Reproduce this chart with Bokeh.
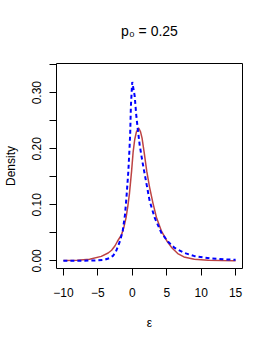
from bokeh.plotting import figure
from bokeh.models import Range1d, FixedTicker
from bokeh.embed import file_html
from bokeh.resources import INLINE

# Solid red curve (density vs epsilon)
red_x = [-10, -8, -6.2, -4.5, -3.5, -3, -2.5, -2.15, -1.55, -1.2, -0.9, -0.65, -0.42,
         -0.1, 0.13, 0.35, 0.6, 0.93, 1.2, 1.42, 1.71, 2.1, 2.5, 3.0, 3.5, 4.2, 5.0,
         5.7, 6.6, 7.5, 9.0, 11, 13, 15]
red_y = [0.0005, 0.0012, 0.0028, 0.008, 0.014, 0.019, 0.027, 0.035, 0.047, 0.061,
         0.077, 0.097, 0.119, 0.160, 0.195, 0.216, 0.230, 0.237, 0.230, 0.219, 0.195,
         0.160, 0.132, 0.103, 0.078, 0.054, 0.036, 0.024, 0.013, 0.007, 0.003, 0.0012,
         0.0006, 0.0003]

# Dashed blue curve
blue_x = [-10, -7, -5, -4, -3.3, -2.8, -2.4, -2.07, -1.77, -1.39, -1.05, -0.81, -0.57,
          -0.42, -0.3, -0.2, -0.05, 0, 0.35, 0.59, 0.8, 1.07, 1.5, 1.8, 2.52, 3.25,
          4.22, 5.2, 6.15, 7.6, 9.05, 11.5, 13.9, 15]
blue_y = [0.0001, 0.0003, 0.001, 0.002, 0.005, 0.009, 0.016, 0.026, 0.036, 0.053,
          0.083, 0.119, 0.160, 0.196, 0.228, 0.276, 0.310, 0.319, 0.294, 0.258, 0.235,
          0.207, 0.175, 0.155, 0.107, 0.077, 0.050, 0.034, 0.023, 0.014, 0.0084,
          0.0042, 0.0025, 0.002]

x_ticks = [-10, -5, 0, 5, 10, 15]
x_tick_labels = ["\u221210", "\u22125", "0", "5", "10", "15"]
y_ticks = [0, 0.05, 0.1, 0.15, 0.2, 0.25, 0.3, 0.35]
y_tick_labels = ["0.00", "", "0.10", "", "0.20", "", "0.30", ""]

title_text = "p\u2080 = 0.25"

FONT = "Liberation Sans"

p = figure(frame_width=186, frame_height=205, output_backend="svg", toolbar_location=None,
           x_range=Range1d(-11, 16), y_range=Range1d(-0.0136, 0.352),
           min_border_left=55, min_border_right=15, min_border_top=62,
           min_border_bottom=61, background_fill_color="white",
           border_fill_color="white")

p.title.text = title_text
p.title.align = "center"
p.title.vertical_align = "top"
p.title.text_font = FONT
p.title.text_font_size = "14px"
p.title.text_font_style = "normal"
p.title.text_color = "black"
p.title.standoff = 45

p.grid.visible = False
p.outline_line_color = "black"
p.outline_line_width = 1
p.outline_line_alpha = 1

for ax in (p.xaxis[0], p.yaxis[0]):
    ax.axis_line_color = None
    ax.major_tick_in = 0
    ax.major_tick_out = 7
    ax.major_tick_line_color = "black"
    ax.minor_tick_line_color = None
    ax.major_label_text_font = FONT
    ax.major_label_text_font_size = "12px"
    ax.major_label_text_color = "black"
    ax.axis_label_text_font = FONT
    ax.axis_label_text_font_size = "12px"
    ax.axis_label_text_font_style = "normal"
    ax.axis_label_text_color = "black"

p.xaxis.ticker = FixedTicker(ticks=x_ticks)
p.xaxis.major_label_overrides = {t: l for t, l in zip(x_ticks, x_tick_labels)}
p.xaxis.major_label_standoff = 12
p.xaxis.axis_label = "\u03b5"
p.xaxis.axis_label_standoff = 16

p.yaxis.ticker = FixedTicker(ticks=y_ticks)
p.yaxis.major_label_overrides = {t: l for t, l in zip(y_ticks, y_tick_labels)}
p.yaxis.major_label_orientation = "vertical"
p.yaxis.major_label_standoff = 8
p.yaxis.axis_label = "Density"
p.yaxis.axis_label_standoff = 12

p.line(red_x, red_y, line_color="#B22222", line_width=1.5, line_alpha=0.85)
p.line(blue_x, blue_y, line_color="blue", line_width=2, line_dash="4 3")

open("out.html", "w").write(file_html(p, INLINE))
